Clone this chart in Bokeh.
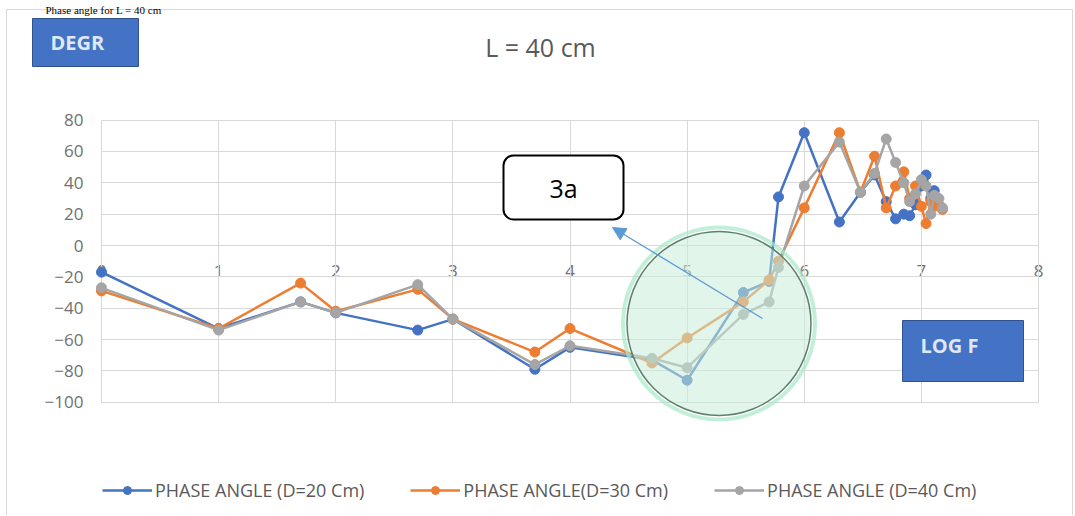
from bokeh.plotting import figure
from bokeh.models import (Range1d, FixedTicker, Legend, LegendItem, Label,
                          BoxAnnotation, Arrow, NormalHead)
from bokeh.embed import file_html
from bokeh.resources import INLINE

# ---------------- data ----------------
log_f = [0, 1, 1.7, 2, 2.7, 3, 3.7, 4, 4.7, 5, 5.48, 5.7, 5.78, 6, 6.3, 6.48,
         6.6, 6.7, 6.78, 6.85, 6.9, 6.95, 7.0, 7.04, 7.08, 7.11, 7.15, 7.18]
nan = float("nan")
phase_d20 = [-17, -53, -36, -43, -54, -47, -79, -65, -73, -86, -30, -23, 31, 72, 15, 34,
             45, 28, 17, 20, 19, 26, 38, 45, 30, 35, nan, nan]
phase_d30 = [-29, -53, -24, -42, -28, -47, -68, -53, -75, -59, -36, -22, -10, 24, 72, 34,
             57, 24, 38, 47, 30, 38, 25, 14, 28, 25, 26, 23]
phase_d40 = [-27, -54, -36, -43, -25, -47, -76, -64, -72, -78, -44, -36, -14, 38, 66, 34,
             46, 68, 53, 40, 28, 33, 42, 38, 20, 32, 30, 24]
series_labels = ["PHASE ANGLE (D=20 Cm)", "PHASE ANGLE(D=30 Cm)", "PHASE ANGLE (D=40 Cm)"]
series_colors = ["#4472C4", "#ED7D31", "#A5A5A5"]
x_ticks = [0, 1, 2, 3, 4, 5, 6, 7, 8]
y_ticks = [-100, -80, -60, -40, -20, 0, 20, 40, 60, 80]

FONT = "Open Sans"
GRID = "#d9d9d9"
W, H = 1074, 515
# pixel layout of the plot area: x=0 at px 101, 117.125 px/unit; y=0 at px 245, 1.5667 px/unit
X0, XS, Y0, YS = 101.0, 117.125, 245.0, 1.5667


def dx(px):
    return (px - X0) / XS


def dy(py):
    return (Y0 - py) / YS


p = figure(width=W, height=H, output_backend="svg", toolbar_location=None,
           x_range=Range1d(dx(0), dx(W)), y_range=Range1d(dy(H), dy(0)),
           min_border_left=0, min_border_right=0, min_border_top=0, min_border_bottom=0)
p.outline_line_color = None
p.background_fill_color = "white"
p.border_fill_color = "white"

# grid, limited to the plotting area
p.xgrid.ticker = FixedTicker(ticks=x_ticks)
p.ygrid.ticker = FixedTicker(ticks=y_ticks)
p.xgrid.bounds = (x_ticks[0], x_ticks[-1])
p.ygrid.bounds = (y_ticks[0], y_ticks[-1])
p.xgrid.cross_bounds = (y_ticks[0], y_ticks[-1])
p.ygrid.cross_bounds = (x_ticks[0], x_ticks[-1])
p.grid.grid_line_color = GRID
p.grid.grid_line_width = 1

# axes (drawn at the zero lines, Excel style)
p.xaxis.ticker = FixedTicker(ticks=x_ticks)
p.yaxis.ticker = FixedTicker(ticks=y_ticks)
p.xaxis.fixed_location = 0
p.yaxis.fixed_location = 0
p.xaxis.bounds = (x_ticks[0], x_ticks[-1])
p.yaxis.bounds = (y_ticks[0], y_ticks[-1])
p.xaxis.axis_line_color = GRID
p.yaxis.axis_line_color = None
for ax in (p.xaxis, p.yaxis):
    ax.major_tick_line_color = None
    ax.minor_tick_line_color = None
    ax.major_tick_out = 0
    ax.major_tick_in = 0
    ax.major_label_text_font = FONT
    ax.major_label_text_font_size = "17px"
    ax.major_label_text_color = "#707070"
p.xaxis.major_label_standoff = 19
p.yaxis.major_label_standoff = 18
p.xaxis.level = "underlay"

# chart border
p.add_layout(BoxAnnotation(left=dx(6), right=dx(1072), top=dy(9), bottom=dy(530),
                           fill_alpha=0, line_color=GRID, line_alpha=1, line_width=1,
                           level="underlay"))

# series
items = []
for ys, col, lab in zip([phase_d20, phase_d30, phase_d40], series_colors, series_labels):
    ln = p.line(log_f, ys, line_color=col, line_width=2.5)
    sc = p.scatter(log_f, ys, marker="circle", size=10, fill_color=col, line_color=col)
    items.append(LegendItem(label=lab, renderers=[ln, sc]))

# highlight circle
p.scatter([dx(718.5)], [dy(323)], marker="circle", size=192, fill_color=None,
          line_color="#a6e8c8", line_width=4, line_alpha=0.7)
p.scatter([dx(718.5)], [dy(323)], marker="circle", size=184, fill_color="#c9ecd9",
          fill_alpha=0.55, line_color="#5e7f6d", line_width=1.5)

legend = Legend(items=items, location=(102, 13), orientation="horizontal",
                padding=0, margin=0, spacing=46, label_standoff=3,
                glyph_width=50, glyph_height=20, label_height=20,
                border_line_color=None, background_fill_alpha=0,
                label_text_font=FONT, label_text_font_size="18px",
                label_text_color="#595959")
p.add_layout(legend)

# texts and shapes
p.add_layout(Label(x=dx(45), y=dy(9), text="Phase angle for L = 40 cm",
                   text_font="Liberation Serif", text_font_size="11px",
                   text_color="black", text_baseline="alphabetic"))
p.add_layout(Label(x=dx(540), y=dy(46), text="L = 40 cm", text_align="center",
                   text_baseline="middle", text_font=FONT, text_font_size="25px",
                   text_color="#595959"))

p.add_layout(BoxAnnotation(left=dx(32), right=dx(138), top=dy(18), bottom=dy(66),
                           fill_color="#4472C4", fill_alpha=1.0,
                           line_color="#2f528f", line_alpha=1, line_width=1))
p.add_layout(Label(x=dx(50), y=dy(42), text="DEGR", text_baseline="middle",
                   text_font=FONT, text_font_style="bold", text_font_size="20px",
                   text_color="#dfe8f6"))

p.add_layout(BoxAnnotation(left=dx(902), right=dx(1023), top=dy(320), bottom=dy(381),
                           fill_color="#4472C4", fill_alpha=1.0,
                           line_color="#2f528f", line_alpha=1, line_width=1))
p.add_layout(Label(x=dx(920), y=dy(345), text="LOG F", text_baseline="middle",
                   text_font=FONT, text_font_style="bold", text_font_size="20px",
                   text_color="#dfe8f6"))

p.add_layout(Arrow(x_start=dx(762), y_start=dy(318), x_end=dx(612), y_end=dy(227),
                   line_color="#5b9bd5", line_width=1.3,
                   end=NormalHead(size=13, fill_color="#5b9bd5", line_color="#5b9bd5")))

p.add_layout(BoxAnnotation(left=dx(503), right=dx(623), top=dy(155), bottom=dy(219),
                           fill_color="white", fill_alpha=1.0,
                           line_color="black", line_alpha=1, line_width=2,
                           border_radius=10))
p.add_layout(Label(x=dx(563), y=dy(187), text="3a", text_align="center",
                   text_baseline="middle", text_font=FONT, text_font_size="25px",
                   text_color="black"))

open("out.html", "w").write(file_html(p, INLINE))
